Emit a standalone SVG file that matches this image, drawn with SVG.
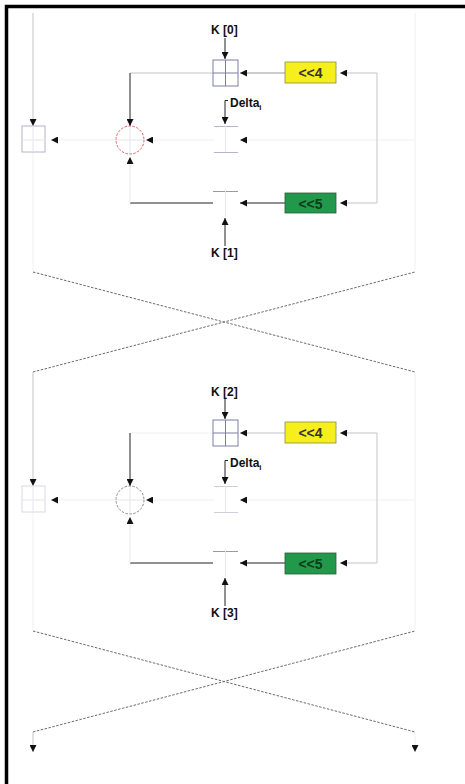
<svg xmlns="http://www.w3.org/2000/svg" width="465" height="784" viewBox="0 0 465 784">
  <style>
    .lbl { font-family: "Liberation Sans", Arial, sans-serif; font-weight: bold; font-size: 12px; fill: #111; }
    .op { font-family: "Liberation Sans", Arial, sans-serif; font-weight: bold; font-size: 14px; text-anchor: middle; }
    .wire { fill: none; stroke: #c4c4c4; stroke-width: 1; }
    .faint { fill: none; stroke: #f0f0f0; stroke-width: 1; }
    .dark { fill: none; stroke: #222; stroke-width: 1; }
    .mid { fill: none; stroke: #9a9a9a; stroke-width: 1; }
    .cross { fill: none; stroke: #6a6a6a; stroke-width: 1; stroke-dasharray: 2.5 1.5; }
    .reg { fill: none; stroke: #7c7ca8; stroke-width: 1; }
    .regl { fill: none; stroke: #b4b4cc; stroke-width: 1; }
    .regf { fill: none; stroke: #e6e6ee; stroke-width: 1; }
    .arw { marker-end: url(#tip); }
  </style>
  <defs>
    <marker id="tip" viewBox="0 0 7 7" refX="7" refY="3.5" markerWidth="7" markerHeight="7" markerUnits="userSpaceOnUse" orient="auto">
      <path d="M0,0 L7,3.5 L0,7 z" fill="#111"/>
    </marker>
  </defs>

  <rect width="465" height="784" fill="#fff"/>
  <!-- frame -->
  <path d="M6.5 784 V6.5 H465" fill="none" stroke="#000" stroke-width="3.5"/>

  <!-- ===== round 1 ===== -->
  <g id="round1">
    <g id="connectors1">
      <line class="wire arw" x1="33" y1="13" x2="33" y2="126"/>
      <line class="faint" x1="33" y1="152" x2="33" y2="270"/>
      <line class="faint" x1="415" y1="13" x2="415" y2="270"/>
      <line class="faint arw" x1="116" y1="140" x2="51" y2="140"/>
      <line class="wire" x1="213" y1="73" x2="130" y2="73"/>
      <line class="dark arw" x1="130" y1="73" x2="130" y2="126"/>
      <line class="faint arw" x1="214" y1="140" x2="146" y2="140"/>
      <line class="faint" x1="130" y1="163" x2="130" y2="203"/>
      <path class="dark" d="M213 203 H130"/>
      <path class="faint arw" d="M130 203 V157"/>
      <line class="dark arw" x1="225" y1="38" x2="225" y2="59"/>
      <path class="dark arw" d="M228 100.5 H225 V124"/>
      <line class="dark arw" x1="225" y1="246" x2="225" y2="218"/>
      <line class="mid arw" x1="285" y1="73" x2="240" y2="73"/>
      <line class="faint arw" x1="415" y1="140" x2="240" y2="140"/>
      <line class="dark arw" x1="285" y1="203" x2="240" y2="203"/>
      <path class="wire" d="M377 73 V203"/>
      <line class="wire arw" x1="377" y1="73" x2="340" y2="73"/>
      <line class="wire arw" x1="377" y1="203" x2="340" y2="203"/>
      <!-- lane swap -->
      <line class="cross" x1="33" y1="272" x2="415" y2="372"/>
      <line class="cross" x1="33" y1="372" x2="415" y2="272"/>
    </g>
    <g id="reg-left1">
      <rect class="regl" x="22" y="126" width="23" height="26"/>
      <line class="regf" x1="22" y1="140" x2="45" y2="140"/>
      <line class="regf" x1="33" y1="126" x2="33" y2="152"/>
    </g>
    <g id="add1">
      <line class="regf" x1="116" y1="140" x2="144" y2="140"/>
      <line class="regf" x1="130" y1="126" x2="130" y2="154"/>
      <circle cx="130" cy="140" r="14" fill="none" stroke="#e06060" stroke-width="1" stroke-dasharray="2.5 1.5"/>
    </g>
    <g id="key0">
      <text class="lbl" x="211" y="34">K [0]</text>
      <rect class="reg" x="213" y="60" width="25" height="26"/>
      <line class="reg" x1="225.5" y1="60" x2="225.5" y2="86"/>
      <line class="reg" x1="213" y1="73" x2="238" y2="73"/>
    </g>
    <g id="delta1">
      <text class="lbl" x="230" y="107" font-size="11">Delta<tspan font-size="8" dy="3">i</tspan></text>
      <line class="regl" x1="214" y1="126.5" x2="238" y2="126.5"/>
      <line class="regl" x1="214" y1="152.5" x2="238" y2="152.5"/>
      <line class="regf" x1="225.5" y1="126" x2="225.5" y2="152"/>
    </g>
    <g id="key1">
      <line class="mid" x1="213" y1="191.5" x2="238" y2="191.5"/>
      <line class="regf" x1="225.5" y1="191" x2="225.5" y2="217"/>
      <text class="lbl" x="211" y="257">K [1]</text>
    </g>
    <g id="shl4-1">
      <rect x="285" y="62" width="51" height="21" fill="#f7ef1c" stroke="#8a8a40" stroke-width="0.8"/>
      <text class="op" x="310.5" y="78" fill="#333">&lt;&lt;4</text>
    </g>
    <g id="shl5-1">
      <rect x="285" y="193" width="51" height="20" fill="#22994a" stroke="#2a5a3a" stroke-width="0.8"/>
      <text class="op" x="310.5" y="208.5" fill="#0b3a1c">&lt;&lt;5</text>
    </g>
  </g>

  <!-- ===== round 2 ===== -->
  <g id="round2">
    <g id="connectors2">
      <line class="wire arw" x1="33" y1="372" x2="33" y2="486"/>
      <line class="faint" x1="33" y1="512" x2="33" y2="630"/>
      <line class="faint" x1="415" y1="372" x2="415" y2="630"/>
      <line class="faint arw" x1="116" y1="500" x2="51" y2="500"/>
      <line class="faint" x1="213" y1="433" x2="130" y2="433"/>
      <line class="dark arw" x1="130" y1="433" x2="130" y2="486"/>
      <line class="faint arw" x1="214" y1="500" x2="146" y2="500"/>
      <line class="faint" x1="130" y1="523" x2="130" y2="563"/>
      <path class="dark" d="M213 563 H130"/>
      <path class="faint arw" d="M130 563 V517"/>
      <line class="dark arw" x1="225" y1="398" x2="225" y2="419"/>
      <path class="dark arw" d="M228 460.5 H225 V484"/>
      <line class="dark arw" x1="225" y1="606" x2="225" y2="578"/>
      <line class="wire arw" x1="285" y1="433" x2="240" y2="433"/>
      <line class="faint arw" x1="415" y1="500" x2="240" y2="500"/>
      <line class="dark arw" x1="285" y1="563" x2="240" y2="563"/>
      <path class="wire" d="M377 433 V563"/>
      <line class="wire arw" x1="377" y1="433" x2="340" y2="433"/>
      <line class="wire arw" x1="377" y1="563" x2="340" y2="563"/>
      <!-- lane swap -->
      <line class="cross" x1="33" y1="631" x2="415" y2="732"/>
      <line class="cross" x1="33" y1="732" x2="415" y2="631"/>
      <!-- outputs -->
      <line class="wire arw" x1="33" y1="732" x2="33" y2="752"/>
      <line class="faint arw" x1="415" y1="733" x2="415" y2="752"/>
    </g>
    <g id="reg-left2">
      <rect class="regf" x="22" y="486" width="23" height="26" style="stroke:#d8d8e4"/>
      <line class="regf" x1="22" y1="500" x2="45" y2="500"/>
      <line class="regf" x1="33" y1="486" x2="33" y2="512"/>
    </g>
    <g id="add2">
      <line class="regf" x1="116" y1="500" x2="144" y2="500"/>
      <line class="regf" x1="130" y1="486" x2="130" y2="514"/>
      <circle cx="130" cy="500" r="14" fill="none" stroke="#888" stroke-width="1" stroke-dasharray="2.5 1.5"/>
    </g>
    <g id="key2">
      <text class="lbl" x="211" y="396">K [2]</text>
      <rect class="reg" x="213" y="420" width="25" height="26"/>
      <line class="reg" x1="225.5" y1="420" x2="225.5" y2="446"/>
      <line class="reg" x1="213" y1="433" x2="238" y2="433"/>
    </g>
    <g id="delta2">
      <text class="lbl" x="230" y="467" font-size="11">Delta<tspan font-size="8" dy="3">i</tspan></text>
      <line class="regf" x1="214" y1="486.5" x2="238" y2="486.5" style="stroke:#d0d0dc"/>
      <line class="regf" x1="214" y1="512.5" x2="238" y2="512.5" style="stroke:#d0d0dc"/>
      <line class="regf" x1="225.5" y1="486" x2="225.5" y2="512"/>
    </g>
    <g id="key3">
      <line class="mid" x1="213" y1="551.5" x2="238" y2="551.5"/>
      <line class="regf" x1="225.5" y1="551" x2="225.5" y2="577"/>
      <text class="lbl" x="211" y="617">K [3]</text>
    </g>
    <g id="shl4-2">
      <rect x="285" y="422" width="51" height="21" fill="#f7ef1c" stroke="#8a8a40" stroke-width="0.8"/>
      <text class="op" x="310.5" y="438" fill="#333">&lt;&lt;4</text>
    </g>
    <g id="shl5-2">
      <rect x="285" y="553" width="51" height="21" fill="#22994a" stroke="#2a5a3a" stroke-width="0.8"/>
      <text class="op" x="310.5" y="569" fill="#0b3a1c">&lt;&lt;5</text>
    </g>
  </g>
</svg>
